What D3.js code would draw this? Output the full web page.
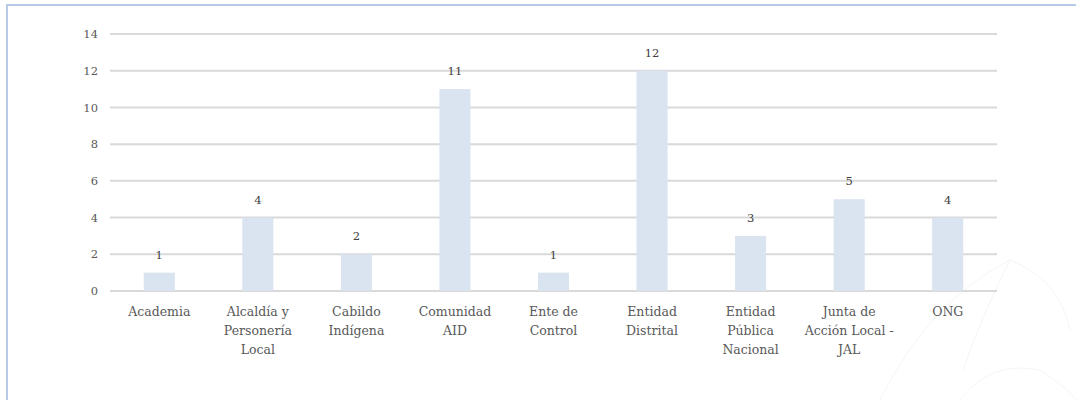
<!DOCTYPE html>
<html>
<head>
<meta charset="utf-8">
<script src="https://cdn.jsdelivr.net/npm/d3@7"></script>
<style>
  body { margin: 0; background: #fff; }
  .chart text { font-family: "DejaVu Serif", "Liberation Serif", serif; }
</style>
</head>
<body>
<div class="chart"></div>
<script>
// data
var categories = ["Academia", "Alcaldía y Personería Local", "Cabildo Indígena", "Comunidad AID",
  "Ente de Control", "Entidad Distrital", "Entidad Pública Nacional", "Junta de Acción Local - JAL", "ONG"];
var labelLines = [["Academia"], ["Alcaldía y", "Personería", "Local"], ["Cabildo", "Indígena"],
  ["Comunidad", "AID"], ["Ente de", "Control"], ["Entidad", "Distrital"], ["Entidad", "Pública", "Nacional"],
  ["Junta de", "Acción Local -", "JAL"], ["ONG"]];
var values = [1, 4, 2, 11, 1, 12, 3, 5, 4];
var yTicks = [0, 2, 4, 6, 8, 10, 12, 14];

var svgWidth = 1076;
var svgHeight = 400;

var svg = d3.select(".chart")
    .append("svg")
    .attr("width", svgWidth)
    .attr("height", svgHeight);

// faint watermark arcs in the lower right
var wm = svg.append("g").attr("fill", "none").attr("stroke", "#f5f5f5").attr("stroke-width", 1);
wm.append("path").attr("d", "M 880 400 Q 930 300 1010 260 Q 1060 280 1070 330");
wm.append("path").attr("d", "M 960 400 Q 990 360 1040 370 Q 1070 390 1076 400");
wm.append("path").attr("d", "M 1010 260 Q 980 320 963 370");

// frame
svg.append("path")
    .attr("d", "M 7 400 V 5 H 1076")
    .attr("fill", "none")
    .attr("stroke", "#b7cae6")
    .attr("stroke-width", 2);

var margin = {left: 110, right: 79, top: 34, bottom: 109};
var width = svgWidth - margin.left - margin.right;
var height = svgHeight - margin.top - margin.bottom;

var chart = svg.append("g")
    .attr("transform", "translate(" + margin.left + "," + margin.top + ")");

var xScale = d3.scaleBand()
    .domain(categories)
    .range([0, width])
    .paddingInner(0.685)
    .paddingOuter(0.3425);

var yScale = d3.scaleLinear()
    .domain([0, 14])
    .range([height, 0]);

// gridlines
chart.append("g")
    .selectAll("line")
    .data(yTicks)
    .enter()
    .append("line")
    .attr("x1", 0)
    .attr("x2", width)
    .attr("y1", function(d) { return yScale(d); })
    .attr("y2", function(d) { return yScale(d); })
    .attr("stroke", "#d9d9d9")
    .attr("stroke-width", 2);

// y axis labels
var leftAxis = d3.axisLeft(yScale).tickValues(yTicks).tickSize(0).tickPadding(12);
var yAxis = chart.append("g").call(leftAxis);
yAxis.select(".domain").remove();
yAxis.selectAll("text")
    .attr("fill", "#595959")
    .style("font-size", "11.5px");

// bars
chart.selectAll(".bar")
    .data(values)
    .enter()
    .append("rect")
    .attr("class", "bar")
    .attr("x", function(d, i) { return xScale(categories[i]); })
    .attr("y", function(d) { return yScale(d); })
    .attr("width", xScale.bandwidth())
    .attr("height", function(d) { return height - yScale(d); })
    .attr("fill", "#dae3f0");

// value labels
chart.selectAll(".val")
    .data(values)
    .enter()
    .append("text")
    .attr("class", "val")
    .attr("x", function(d, i) { return xScale(categories[i]) + xScale.bandwidth() / 2; })
    .attr("y", function(d) { return yScale(d) - 14; })
    .attr("text-anchor", "middle")
    .attr("fill", "#404040")
    .style("font-size", "11.5px")
    .text(function(d) { return d; });

// x labels
var xl = chart.selectAll(".xlab")
    .data(categories)
    .enter()
    .append("text")
    .attr("class", "xlab")
    .attr("text-anchor", "middle")
    .attr("fill", "#595959")
    .style("font-size", "12.5px")
    .attr("transform", function(d) {
        return "translate(" + (xScale(d) + xScale.bandwidth() / 2) + "," + (height + 25) + ")";
    });

xl.selectAll("tspan")
    .data(function(d, i) { return labelLines[i]; })
    .enter()
    .append("tspan")
    .attr("x", 0)
    .attr("y", function(d, j) { return j * 19; })
    .text(function(d) { return d; });
</script>
</body>
</html>
